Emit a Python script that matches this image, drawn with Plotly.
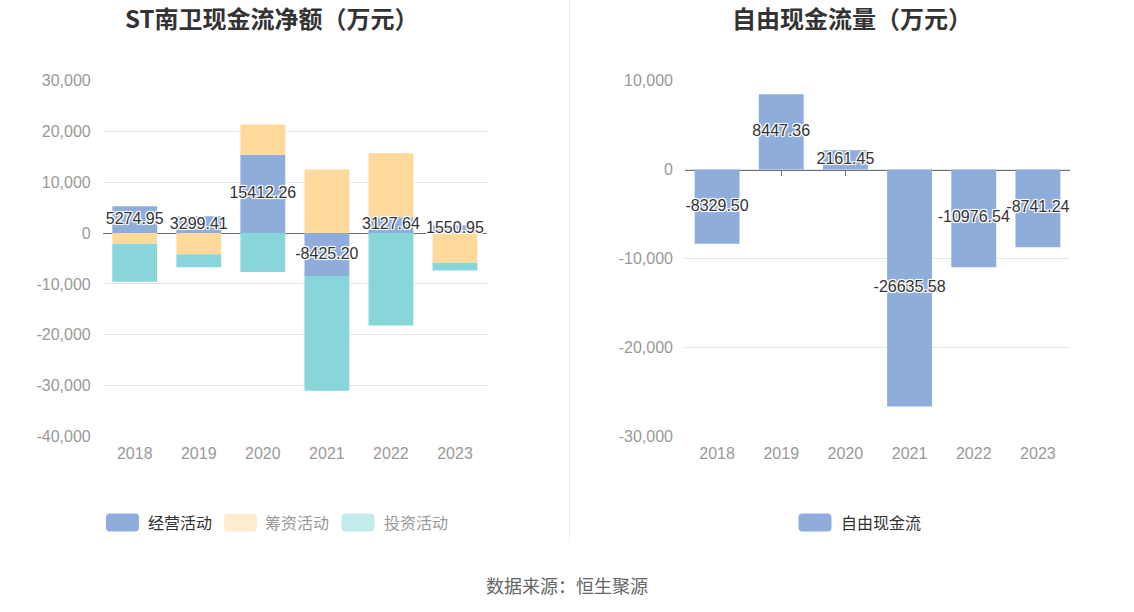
import plotly.graph_objects as go

# ---------------- data ----------------
years = ["2018", "2019", "2020", "2021", "2022", "2023"]
operating = [5274.95, 3299.41, 15412.26, -8425.20, 3127.64, 1550.95]   # 经营活动
financing = [-2100, -4150, 5960, 12490, 12580, -5860]                   # 筹资活动
investing = [-7450, -2570, -7640, -22560, -18160, -1520]                # 投资活动
free_cf = [-8329.50, 8447.36, 2161.45, -26635.58, -10976.54, -8741.24]  # 自由现金流

left_ticks = [30000, 20000, 10000, 0, -10000, -20000, -30000, -40000]
right_ticks = [10000, 0, -10000, -20000, -30000]

left_title = "ST南卫现金流净额（万元）"
right_title = "自由现金流量（万元）"
left_legend = ["经营活动", "筹资活动", "投资活动"]
right_legend = ["自由现金流"]
source_text = "数据来源：恒生聚源"

# ---------------- styles ----------------
W, H = 1134, 612
BLUE, ORANGE, TEAL = "#8EADDB", "#FFD99B", "#88D6D9"
SW_BLUE, SW_ORANGE, SW_TEAL = "#8EADDB", "#FFEBCD", "#C3EBEC"
GRID = "#E0E6F1"
AXIS = "#6E7079"
TICKC = "#999999"
NUMFONT = "Liberation Sans, Noto Sans CJK SC, sans-serif"
CJKFONT = "Noto Sans CJK SC, sans-serif"


def px(x):
    return x / W


def py(y):
    return 1 - y / H


ydom = [py(436.5), py(80.5)]
left_dom = [px(102.7), px(487)]
right_dom = [px(685), px(1070)]


def zero_pos(rng):
    return ydom[0] + (0 - rng[0]) / (rng[1] - rng[0]) * (ydom[1] - ydom[0])


left_range = [min(left_ticks), max(left_ticks)]
right_range = [min(right_ticks), max(right_ticks)]

fig = go.Figure()

# left stacked bars
for name, vals, col in [(left_legend[0], operating, BLUE),
                        (left_legend[1], financing, ORANGE),
                        (left_legend[2], investing, TEAL)]:
    fig.add_trace(go.Bar(x=years, y=vals, name=name, marker=dict(color=col, line=dict(width=0)),
                         xaxis="x", yaxis="y", hoverinfo="x+y"))

# right bars
fig.add_trace(go.Bar(x=years, y=free_cf, name=right_legend[0], marker=dict(color=BLUE, line=dict(width=0)),
                     xaxis="x2", yaxis="y2", hoverinfo="x+y"))

label_font = dict(size=16, color="#333333", family=NUMFONT,
                  shadow="1px 1px 0 #fff, -1px -1px 0 #fff, 1px -1px 0 #fff, -1px 1px 0 #fff, 0 0 3px #fff")

# labels (centered in the operating segment, which is first in the stack)
fig.add_trace(go.Scatter(x=years, y=[v / 2 for v in operating], mode="text",
                         text=[f"{v:.2f}" for v in operating], textposition="middle center",
                         textfont=label_font, xaxis="x", yaxis="y", cliponaxis=False,
                         hoverinfo="skip", showlegend=False))
fig.add_trace(go.Scatter(x=years, y=[v / 2 for v in free_cf], mode="text",
                         text=[f"{v:.2f}" for v in free_cf], textposition="middle center",
                         textfont=label_font, xaxis="x2", yaxis="y2", cliponaxis=False,
                         hoverinfo="skip", showlegend=False))

# invisible helpers to create the zero-axis overlays
idx = list(range(len(years)))
fig.add_trace(go.Scatter(x=idx, y=[0] * len(idx), mode="none", xaxis="x3", yaxis="y",
                         hoverinfo="skip", showlegend=False))
fig.add_trace(go.Scatter(x=idx, y=[0] * len(idx), mode="none", xaxis="x4", yaxis="y2",
                         hoverinfo="skip", showlegend=False))

xcommon = dict(type="category", showgrid=False, showline=False, zeroline=False, ticks="",
               tickfont=dict(size=16, color=TICKC, family=NUMFONT), ticklabelstandoff=5,
               fixedrange=True, automargin=False)
ycommon = dict(showgrid=True, gridcolor=GRID, gridwidth=1, zeroline=False, showline=False,
               ticks="", tickfont=dict(size=16, color=TICKC, family=NUMFONT),
               ticklabelstandoff=11, fixedrange=True, domain=ydom, automargin=False)
zcommon = dict(type="linear", range=[-0.5, len(years) - 0.5], tickvals=idx, showticklabels=False,
               ticks="outside", ticklen=5, tickcolor=AXIS, tickwidth=1, showline=True,
               linecolor=AXIS, linewidth=1, showgrid=False, zeroline=False,
               layer="below traces", anchor="free", fixedrange=True, automargin=False)

fig.update_layout(
    template="none",
    width=W, height=H, autosize=False,
    margin=dict(l=0, r=0, t=0, b=0, pad=0, autoexpand=False),
    paper_bgcolor="white", plot_bgcolor="white",
    barmode="relative", bargap=0.3,
    showlegend=False,
    xaxis=dict(domain=left_dom, anchor="y", **xcommon),
    yaxis=dict(anchor="x", range=left_range, tickvals=left_ticks,
               ticktext=[f"{v:,}" for v in left_ticks], **ycommon),
    xaxis2=dict(domain=right_dom, anchor="y2", **xcommon),
    yaxis2=dict(anchor="x2", range=right_range, tickvals=right_ticks,
                ticktext=[f"{v:,}" for v in right_ticks], **ycommon),
    xaxis3=dict(domain=left_dom, overlaying="x", position=zero_pos(left_range), **zcommon),
    xaxis4=dict(domain=right_dom, overlaying="x2", position=zero_pos(right_range), **zcommon),
)

shapes = []
annotations = []

# divider
shapes.append(dict(type="line", xref="paper", yref="paper", x0=px(569.5), x1=px(569.5),
                   y0=1, y1=py(542), line=dict(color="#EEEEEE", width=1)))

# titles
for txt, cx in [(left_title, 271), (right_title, 852)]:
    annotations.append(dict(text=f"<b>{txt}</b>", x=px(cx), y=py(17), xref="paper", yref="paper",
                            xanchor="center", yanchor="middle", showarrow=False,
                            font=dict(size=24, color="#333333", family=CJKFONT)))


def rrect(x0, y0, x1, y1, r=4):
    # pixel coords -> paper path with rounded corners
    rx, ry = r / W, r / H
    X0, X1 = px(x0), px(x1)
    Y0, Y1 = py(y1), py(y0)  # bottom, top
    return (f"M{X0 + rx},{Y1} L{X1 - rx},{Y1} Q{X1},{Y1} {X1},{Y1 - ry} "
            f"L{X1},{Y0 + ry} Q{X1},{Y0} {X1 - rx},{Y0} L{X0 + rx},{Y0} "
            f"Q{X0},{Y0} {X0},{Y0 + ry} L{X0},{Y1 - ry} Q{X0},{Y1} {X0 + rx},{Y1} Z")


legend_items = [
    (left_legend[0], SW_BLUE, 106, 146, "#333333"),
    (left_legend[1], SW_ORANGE, 224, 263, "#999999"),
    (left_legend[2], SW_TEAL, 341.5, 381.5, "#999999"),
    (right_legend[0], SW_BLUE, 798.5, 839, "#333333"),
]
for name, col, sx, tx, tcol in legend_items:
    shapes.append(dict(type="path", xref="paper", yref="paper", path=rrect(sx, 513.5, sx + 33, 531.5),
                       fillcolor=col, line=dict(width=0)))
    annotations.append(dict(text=name, x=px(tx), y=py(522), xref="paper", yref="paper",
                            xanchor="left", yanchor="middle", showarrow=False,
                            font=dict(size=16, color=tcol, family=CJKFONT)))

annotations.append(dict(text=source_text, x=px(567), y=py(585), xref="paper", yref="paper",
                        xanchor="center", yanchor="middle", showarrow=False,
                        font=dict(size=18, color="#666666", family=CJKFONT)))

fig.update_layout(shapes=shapes, annotations=annotations)

fig.write_html("out.html", include_plotlyjs=True, full_html=True,
               config={"displayModeBar": False},
               post_script="document.body.style.margin='0';document.body.style.padding='0';")
